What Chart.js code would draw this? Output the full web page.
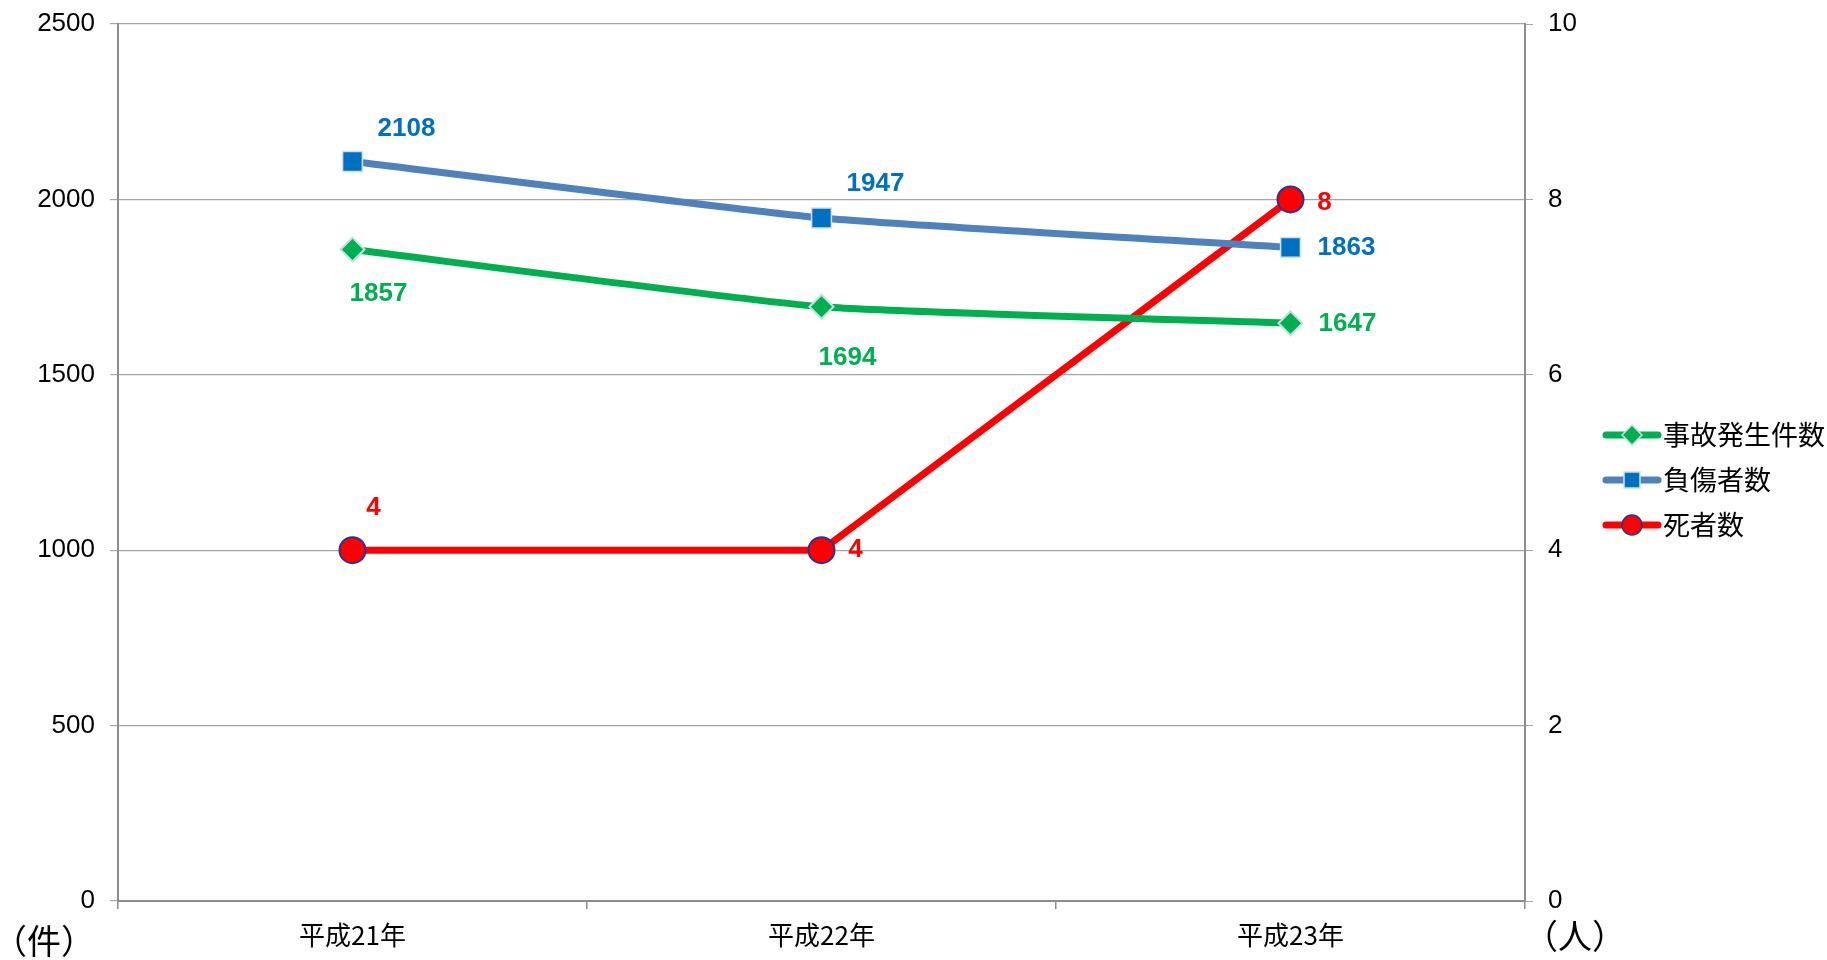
<!DOCTYPE html>
<html lang="ja">
<head>
<meta charset="utf-8">
<title>事故発生件数・負傷者数・死者数</title>
<script src="https://cdn.jsdelivr.net/npm/chart.js@4.4.1/dist/chart.umd.min.js"></script>
<style>
  html, body { margin: 0; padding: 0; background: #fff; }
  #wrap { width: 1827px; height: 960px; }
</style>
</head>
<body>
<div id="wrap"><canvas id="chart" width="1827" height="960"></canvas></div>
<script>
// years
const years = ["平成21年", "平成22年", "平成23年"];

// left axis (件)
const accidents = [1857, 1694, 1647];
const injured = [2108, 1947, 1863];

// right axis (人)
const deaths = [4, 4, 8];

const leftTicks = [0, 500, 1000, 1500, 2000, 2500];
const rightTicks = [0, 2, 4, 6, 8, 10];

const NUM_FONT = "'Liberation Sans', Arial, sans-serif";
const JP_FONT = "'Noto Sans CJK JP', 'Noto Sans', sans-serif";

const GREEN = "#00b050";
const BLUE_LINE = "#4f81bd";
const BLUE = "#0070c0";
const RED = "#ff0000";
const NAVY = "#2e3192";

// where each value label sits relative to its point (dx, dy)
const labelOffsets = {
  accidents: [[26, 44], [26, 51], [57, 1]],
  injured: [[54, -33], [54, -34], [56, 0]],
  deaths: [[21, -42], [34, 0], [34, 3]]
};

/* value labels next to the points */
const valueLabels = {
  id: "valueLabels",
  afterDatasetsDraw(chart) {
    const ctx = chart.ctx;
    ctx.save();
    ctx.font = "bold 26px " + NUM_FONT;
    ctx.textAlign = "center";
    ctx.textBaseline = "middle";
    chart.data.datasets.forEach((ds, i) => {
      const meta = chart.getDatasetMeta(i);
      const offs = labelOffsets[ds.key];
      ctx.fillStyle = ds.labelColor;
      meta.data.forEach((pt, j) => {
        ctx.fillText(String(ds.data[j]), pt.x + offs[j][0], pt.y + offs[j][1]);
      });
    });
    ctx.restore();
  }
};

/* unit captions under both value axes */
const unitCaptions = {
  id: "unitCaptions",
  afterDraw(chart) {
    const ctx = chart.ctx;
    const a = chart.chartArea;
    ctx.save();
    ctx.font = "34px " + JP_FONT;
    ctx.fillStyle = "#000";
    ctx.textBaseline = "middle";
    ctx.textAlign = "center";
    ctx.fillText("（件）", 44, a.bottom + 40);
    ctx.fillText("（人）", a.right + 50, a.bottom + 35);
    ctx.restore();
  }
};

/* legend on the right: line with marker in the middle */
function drawMarker(ctx, style, x, y, fill, border) {
  ctx.fillStyle = fill;
  ctx.strokeStyle = border;
  ctx.lineWidth = 1.5;
  ctx.beginPath();
  if (style === "rectRot") {
    ctx.moveTo(x, y - 10); ctx.lineTo(x + 10, y); ctx.lineTo(x, y + 10); ctx.lineTo(x - 10, y);
    ctx.closePath();
  } else if (style === "rect") {
    ctx.rect(x - 8, y - 8, 16, 16);
  } else {
    ctx.arc(x, y, 10, 0, Math.PI * 2);
  }
  ctx.fill();
  ctx.stroke();
}

const sideLegend = {
  id: "sideLegend",
  afterDraw(chart) {
    const ctx = chart.ctx;
    ctx.save();
    ctx.font = "27px " + JP_FONT;
    ctx.textBaseline = "middle";
    ctx.textAlign = "left";
    chart.data.datasets.forEach((ds, i) => {
      const y = 435 + i * 45;
      ctx.strokeStyle = ds.borderColor;
      ctx.lineWidth = 7;
      ctx.lineCap = "round";
      ctx.beginPath();
      ctx.moveTo(1606, y);
      ctx.lineTo(1658, y);
      ctx.stroke();
      drawMarker(ctx, ds.pointStyle, 1632, y, ds.pointBackgroundColor, ds.pointBorderColor);
      ctx.fillStyle = "#000";
      ctx.fillText(ds.label, 1663, y);
    });
    ctx.restore();
  }
};

new Chart(document.getElementById("chart"), {
  type: "line",
  data: {
    labels: years,
    datasets: [
      {
        key: "accidents",
        label: "事故発生件数",
        data: accidents,
        yAxisID: "y",
        borderColor: GREEN,
        borderWidth: 7,
        tension: 0.15,
        pointStyle: "rectRot",
        pointRadius: 12,
        pointHoverRadius: 12,
        pointBackgroundColor: GREEN,
        pointBorderColor: "#bfe3dc",
        pointBorderWidth: 2,
        labelColor: GREEN
      },
      {
        key: "injured",
        label: "負傷者数",
        data: injured,
        yAxisID: "y",
        borderColor: BLUE_LINE,
        borderWidth: 7,
        tension: 0.15,
        pointStyle: "rect",
        pointRadius: 14,
        pointHoverRadius: 14,
        pointBackgroundColor: BLUE,
        pointBorderColor: "#cfe0f0",
        pointBorderWidth: 1.5,
        labelColor: BLUE
      },
      {
        key: "deaths",
        label: "死者数",
        data: deaths,
        yAxisID: "y1",
        borderColor: RED,
        borderWidth: 7,
        tension: 0,
        pointStyle: "circle",
        pointRadius: 13,
        pointHoverRadius: 13,
        pointBackgroundColor: RED,
        pointBorderColor: NAVY,
        pointBorderWidth: 2,
        labelColor: RED
      }
    ]
  },
  options: {
    responsive: false,
    animation: false,
    layout: { padding: { top: 0, left: 0, right: 0, bottom: 0 } },
    plugins: {
      legend: { display: false },
      tooltip: { enabled: false }
    },
    scales: {
      x: {
        offset: true,
        grid: {
          offset: true,
          drawOnChartArea: false,
          drawTicks: true,
          tickLength: 8,
          color: "#8c8c8c",
          lineWidth: 1.5
        },
        border: { color: "#8c8c8c", width: 2 },
        ticks: {
          color: "#000",
          padding: 11,
          font: { family: JP_FONT, size: 26 }
        },
        afterFit(scale) { scale.height = 59; }
      },
      y: {
        position: "left",
        min: 0,
        max: 2500,
        afterBuildTicks(scale) { scale.ticks = leftTicks.map(v => ({ value: v })); },
        grid: { color: "#a6a6a6", lineWidth: 1.2, tickLength: 8 },
        border: { color: "#8c8c8c", width: 2 },
        ticks: {
          color: "#000",
          padding: 15,
          font: { family: NUM_FONT, size: 26, lineHeight: 1 },
          callback: v => String(v)
        },
        afterFit(scale) { scale.width = 118; scale.paddingTop = 24; }
      },
      y1: {
        position: "right",
        min: 0,
        max: 10,
        afterBuildTicks(scale) { scale.ticks = rightTicks.map(v => ({ value: v })); },
        grid: { drawOnChartArea: false, color: "#a6a6a6", tickLength: 8 },
        border: { color: "#8c8c8c", width: 2 },
        ticks: {
          color: "#000",
          padding: 15,
          font: { family: NUM_FONT, size: 26, lineHeight: 1 },
          callback: v => String(v)
        },
        afterFit(scale) { scale.width = 302; scale.paddingTop = 24; }
      }
    }
  },
  plugins: [valueLabels, unitCaptions, sideLegend]
});
</script>
</body>
</html>
